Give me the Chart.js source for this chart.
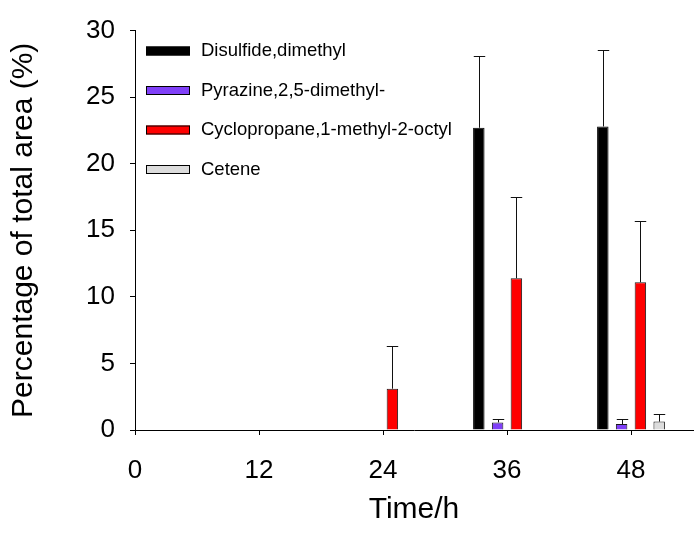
<!DOCTYPE html>
<html>
<head>
<meta charset="utf-8">
<script src="https://cdn.jsdelivr.net/npm/chart.js@4.4.0/dist/chart.umd.min.js"></script>
<style>
  html, body { margin: 0; padding: 0; background: #fff; }
  #wrap { width: 694px; height: 536px; }
</style>
</head>
<body>
<div id="wrap"><canvas id="timeChart"></canvas></div>
<script>
// sampling times (h) and the compounds
var times = [24, 36, 48];
var compounds = ['Disulfide,dimethyl', 'Pyrazine,2,5-dimethyl-', 'Cyclopropane,1-methyl-2-octyl', 'Cetene'];

// mean % of total area, one value per sampling time
var disulfide = [null, 22.7, 22.8];
var pyrazine = [null, 0.57, 0.45];
var cyclopropane = [3.1, 11.4, 11.1];
var cetene = [null, null, 0.63];

// upper error (SD)
var disulfideErr = [null, 5.4, 5.75];
var pyrazineErr = [null, 0.26, 0.37];
var cyclopropaneErr = [3.2, 6.1, 4.6];
var ceteneErr = [null, null, 0.6];

var xTicks = [0, 12, 24, 36, 48];
var yTicks = [0, 5, 10, 15, 20, 25, 30];

var FONT = "Arial, 'Liberation Sans', sans-serif";

function points(values) {
  return times.map(function (t, i) { return { x: t, y: values[i] }; });
}

function series(i, values, errs, fill, border) {
  return {
    label: compounds[i],
    data: points(values),
    errors: errs,
    backgroundColor: fill,
    borderColor: border,
    borderWidth: 1,
    barPercentage: 0.61,
    categoryPercentage: 0.606
  };
}

// draws the upward error bars with a cap
var errorBars = {
  id: 'errorBars',
  afterDatasetsDraw: function (chart) {
    var ctx = chart.ctx;
    var yScale = chart.scales.y;
    ctx.save();
    ctx.strokeStyle = '#111';
    ctx.lineWidth = 1;
    chart.data.datasets.forEach(function (ds, di) {
      var meta = chart.getDatasetMeta(di);
      meta.data.forEach(function (bar, i) {
        var v = ds.data[i].y;
        var e = ds.errors[i];
        if (v == null || e == null) return;
        var x = Math.round(bar.x) + 0.5;
        var yTop = Math.round(yScale.getPixelForValue(v + e)) + 0.5;
        var yBar = yScale.getPixelForValue(v);
        var half = bar.width / 2;
        ctx.beginPath();
        ctx.moveTo(x, yBar);
        ctx.lineTo(x, yTop);
        ctx.moveTo(x - half, yTop);
        ctx.lineTo(x + half, yTop);
        ctx.stroke();
      });
    });
    ctx.restore();
  }
};

// legend in the upper left of the plot, like the original
var boxLegend = {
  id: 'boxLegend',
  afterDraw: function (chart) {
    var ctx = chart.ctx;
    ctx.save();
    ctx.font = '18.5px ' + FONT;
    ctx.textBaseline = 'middle';
    ctx.fillStyle = '#000';
    chart.data.datasets.forEach(function (ds, i) {
      var cy = 51 + i * 39.5;
      ctx.fillStyle = ds.backgroundColor;
      ctx.fillRect(146, cy - 4.5, 44, 9);
      ctx.strokeStyle = '#000';
      ctx.lineWidth = 1;
      ctx.strokeRect(146.5, cy - 4, 43, 8);
      ctx.fillStyle = '#000';
      ctx.fillText(ds.label, 201, cy);
    });
    ctx.restore();
  }
};

var ctx = document.getElementById('timeChart').getContext('2d');
var timeChart = new Chart(ctx, {
  type: 'bar',
  data: {
    datasets: [
      series(0, disulfide, disulfideErr, '#000000', '#000000'),
      series(1, pyrazine, pyrazineErr, '#8040f8', '#1a1a1a'),
      series(2, cyclopropane, cyclopropaneErr, '#ff0000', '#1a1a1a'),
      series(3, cetene, ceteneErr, '#dcdcdc', '#1a1a1a')
    ]
  },
  options: {
    responsive: true,
    maintainAspectRatio: false,
    animation: false,
    layout: {
      padding: { top: 22, right: 1, left: 0, bottom: 0 }
    },
    scales: {
      x: {
        type: 'linear',
        min: 0,
        max: 54,
        offset: false,
        afterFit: function (s) { s.height = 106; },
        afterBuildTicks: function (s) {
          s.ticks = xTicks.map(function (v) { return { value: v }; });
        },
        grid: { display: true, drawOnChartArea: false, drawTicks: true, tickLength: 5, color: '#000', offset: false },
        border: { display: true, color: '#000', width: 1 },
        ticks: { color: '#000', padding: 20, maxRotation: 0, font: { family: FONT, size: 26 } },
        title: {
          display: true,
          text: 'Time/h',
          color: '#000',
          font: { family: FONT, size: 30 },
          padding: { top: 0, bottom: 8 }
        }
      },
      y: {
        min: 0,
        max: 30,
        afterFit: function (s) { s.width = 135; },
        afterBuildTicks: function (s) {
          s.ticks = yTicks.map(function (v) { return { value: v }; });
        },
        grid: { display: true, drawOnChartArea: false, drawTicks: true, tickLength: 5, color: '#000' },
        border: { display: true, color: '#000', width: 1 },
        ticks: { color: '#000', padding: 15, font: { family: FONT, size: 26 } },
        title: {
          display: true,
          text: 'Percentage of total area (%)',
          color: '#000',
          font: { family: FONT, size: 30 },
          padding: { top: 6, bottom: 0 }
        }
      }
    },
    plugins: {
      legend: { display: false },
      tooltip: { enabled: false }
    }
  },
  plugins: [errorBars, boxLegend]
});
</script>
</body>
</html>
